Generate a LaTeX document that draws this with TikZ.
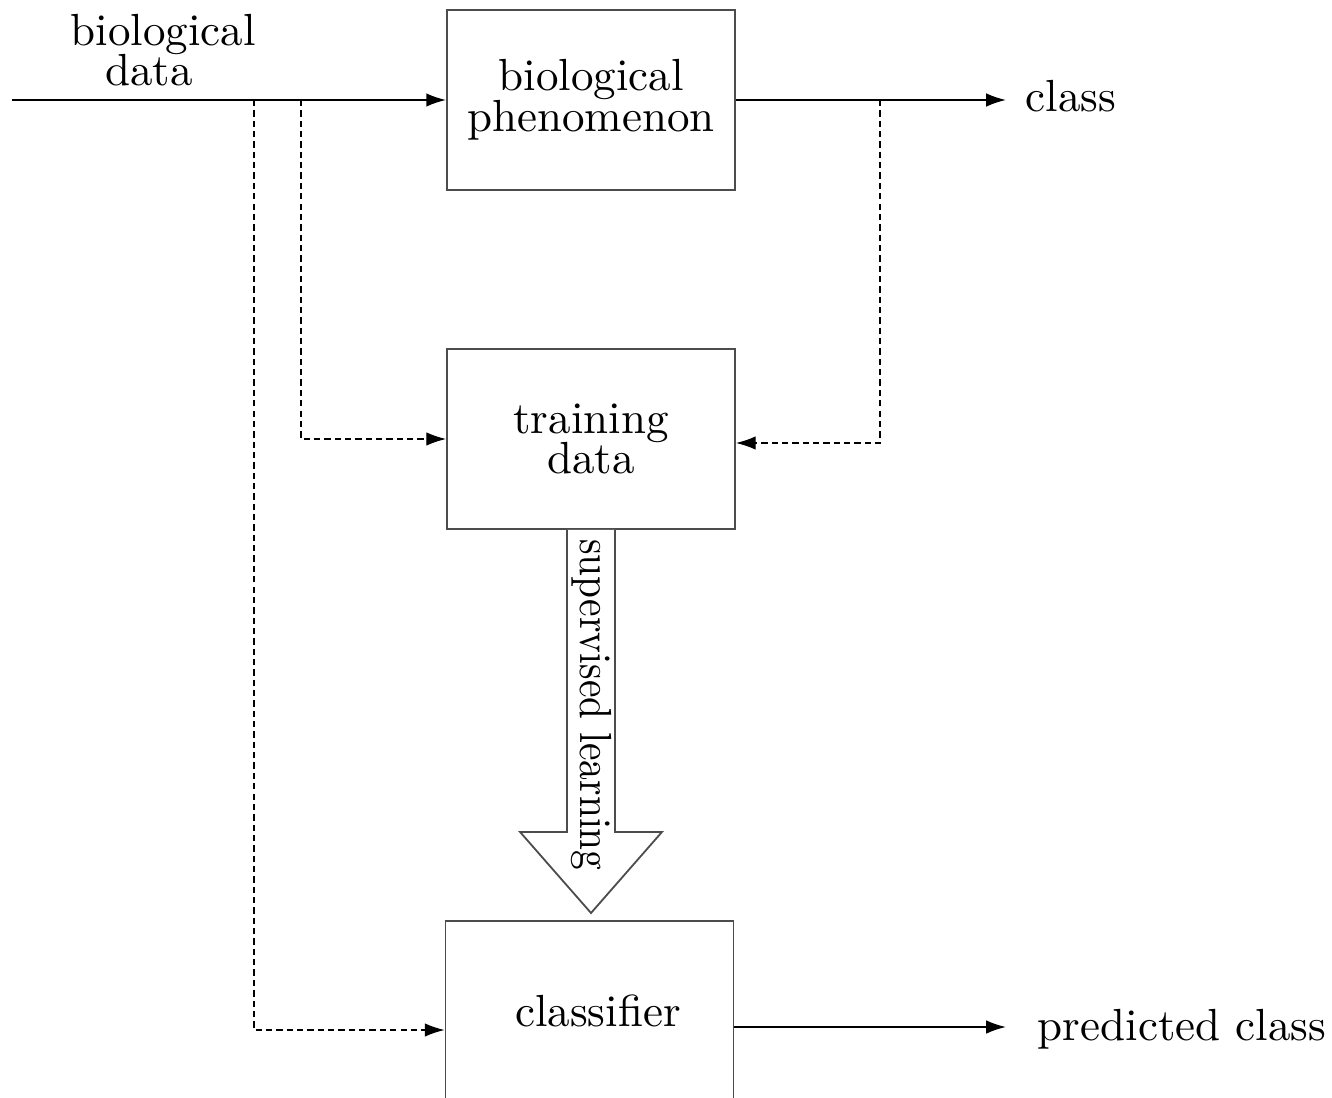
\documentclass[tikz,border=0pt]{standalone}
\usepackage{graphicx}
\usetikzlibrary{arrows.meta,calc}
\begin{document}
\begin{tikzpicture}[x=0.2222pt,y=-0.2222pt,
  box/.style={draw=black!70, minimum width=64pt, minimum height=40pt, align=center, inner sep=0pt, font=\fontsize{10}{9}\selectfont},
  lbl/.style={align=center, inner sep=0pt, font=\fontsize{10}{9}\selectfont},
  arr/.style={-{Latex[length=4.4pt,width=3pt]}},
  dsh/.style={dash pattern=on 1.4pt off 0.9pt, line width=0.3pt}]
\useasboundingbox (0,0) rectangle (1332,1098);
\clip (0,0) rectangle (1332,1098);
% boxes
\node[box] (bp) at (591,100) {biological\\phenomenon};
\node[box] (td) at (591,439) {training\\data};
\node[box] (cl) at (589.5,1011) {\hspace*{3.8pt}\raisebox{-1.2pt}{classifier}};
% labels
\node[lbl] (bd) at (163,50) {biological\\\hspace*{-6.2pt}data};
\node[lbl, anchor=base west] (cls) at (1025,112) {class};
\node[lbl, anchor=base west] (pc) at (1037,1040) {predicted class};
% coordinates
\coordinate (in) at (12,100);
\coordinate (clsend) at (1006,100);
\coordinate (pcend) at (1006,1027);
\coordinate (d1) at (254,100);
\coordinate (d2) at (301,100);
\coordinate (d3) at (880,100);
\coordinate (clin) at (cl.west |- 0,1030);
\coordinate (clout) at (cl.east |- 0,1027);
\coordinate (tip) at (591,913);
% connectors
\draw[arr] (in) -- (bp.west);
\draw[arr] (bp.east) -- (clsend);
\draw[arr] (clout) -- (pcend);
\draw[dsh,arr] (d2) |- (td.west);
\draw[dsh,arr] (d3) |- ($(td.east)+(0,4)$);
\draw[dsh,arr] (d1) |- (clin);
% big arrow
\draw[draw=black!70, fill=white] ($(td.south)+(-24,0)$) -- ++(0,302) -- ++(-47,0) -- (tip) -- ($(td.south)+(71,302)$) -- ++(-47,0) -- ($(td.south)+(24,0)$);
\node[lbl, rotate=-90, anchor=base] (sl) at (580,705) {\scalebox{0.875}[1]{supervised learning}};
\end{tikzpicture}
\end{document}
